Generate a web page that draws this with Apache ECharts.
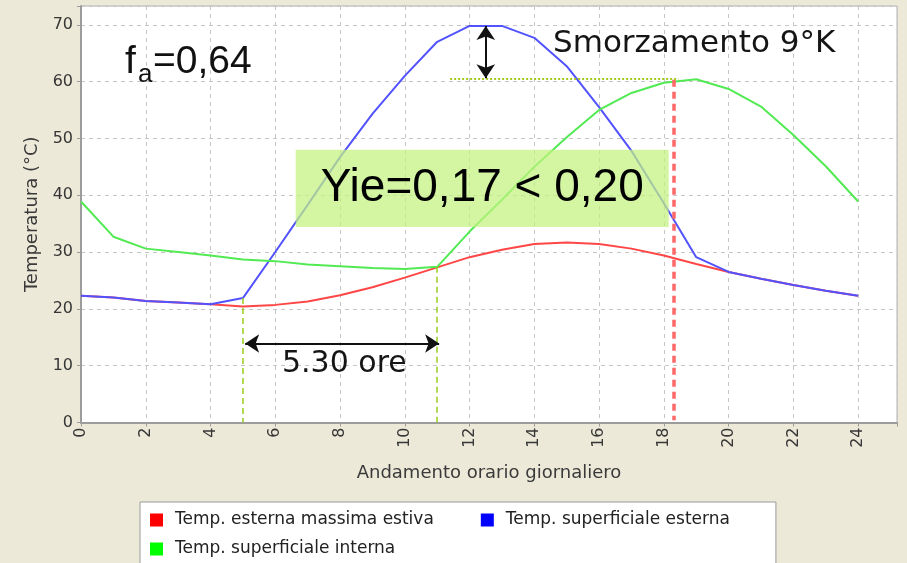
<!DOCTYPE html>
<html>
<head>
<meta charset="utf-8">
<script src="https://cdn.jsdelivr.net/npm/echarts@6/dist/echarts.min.js"></script>
<style>
  html, body { margin: 0; padding: 0; background: #ECE9D8; }
  #chart { width: 907px; height: 563px; }
</style>
</head>
<body>
<div id="chart"></div>
<script>
// Hourly profile over one summer day (hours 0..24)
const hours = [0, 1, 2, 3, 4, 5, 6, 7, 8, 9, 10, 11, 12, 13, 14, 15, 16, 17, 18, 19, 20, 21, 22, 23, 24];

// Temp. esterna massima estiva (°C)
const tempEsterna = [22.3, 22.0, 21.4, 21.1, 20.8, 20.4, 20.7, 21.3, 22.4, 23.8, 25.5, 27.3, 29.1,
                     30.4, 31.4, 31.7, 31.4, 30.6, 29.4, 27.9, 26.5, 25.3, 24.2, 23.2, 22.3];
// Temp. superficiale esterna (°C)
const tempSupEsterna = [22.3, 22.0, 21.4, 21.1, 20.8, 21.9, 30.0, 38.3, 46.7, 54.3, 61.0, 67.0, 69.8,
                        69.8, 67.7, 62.7, 55.5, 47.8, 38.6, 29.1, 26.5, 25.3, 24.2, 23.2, 22.3];
// Temp. superficiale interna (°C)
const tempSupInterna = [38.9, 32.7, 30.6, 30.0, 29.4, 28.7, 28.4, 27.8, 27.5, 27.2, 27.0, 27.4, 33.6,
                        39.2, 45.0, 50.2, 55.0, 58.0, 59.8, 60.4, 58.7, 55.6, 50.6, 45.1, 38.9];

const seriesNames = ['Temp. esterna massima estiva', 'Temp. superficiale esterna', 'Temp. superficiale interna'];

// Axis tick labels
const xTickLabels = [0, 2, 4, 6, 8, 10, 12, 14, 16, 18, 20, 22, 24];
const yTickLabels = [0, 10, 20, 30, 40, 50, 60, 70];

// Annotation geometry in data units [hour, °C]
const dampingArrow = [[12.5, 69.8], [12.5, 60.6]];     // peak attenuation (9 K)
const peakRefLine = [[11.4, 60.5], [18.45, 60.5]];      // internal peak level
const peakHourLine = [[18.3, 60.3], [18.3, 0.4]];       // internal peak hour
const lagStartLine = [[5.0, 21.9], [5.0, 0]];
const lagEndLine = [[11.0, 27.4], [11.0, 0]];
const lagArrow = [[5.07, 13.9], [11.06, 13.9]];         // time shift 5.30 h
const yieBox = [[6.63, 48.0], [18.15, 34.4]];
const yieText = 'Yie=0,17 < 0,20';

const toPoints = vals => hours.map((h, i) => [h, vals[i]]);
const seg = pair => [{ coord: pair[0] }, { coord: pair[1] }];

const lineColors = ['#ff4646', '#5252ff', '#52ea52'];
const legendColors = ['#ff0000', '#0000ff', '#00ff00'];
const legendTextPad = [[0, 35, 0, 7], [0, 10, 0, 7], [0, 10, 0, 7]];
const axisGrey = '#9c9c9c';
const labelText = { fontFamily: 'DejaVu Sans', fontSize: 16, color: '#363636' };

function annotationSeries(name, marker) {
  return Object.assign({ name: name, type: 'line', data: [], silent: true, clip: false, z: 3 }, marker);
}

const chart = echarts.init(document.getElementById('chart'), null, { renderer: 'canvas' });

chart.setOption({
  animation: false,
  backgroundColor: '#ECE9D8',
  textStyle: { fontFamily: 'DejaVu Sans' },
  grid: {
    left: 81, right: 10, top: 6, bottom: 140.5,
    show: true, backgroundColor: '#ffffff', borderColor: '#b0b0b0', borderWidth: 1
  },
  legend: {
    left: 140, top: 502, width: 640,
    orient: 'horizontal',
    icon: 'rect', itemWidth: 13, itemHeight: 13, itemGap: 12,
    padding: [9.5, 36, 10, 10],
    backgroundColor: '#ffffff', borderColor: '#9a9a9a', borderWidth: 1, borderRadius: 0,
    textStyle: { fontFamily: 'DejaVu Sans', fontSize: 17, color: '#222', lineHeight: 17 },
    selectedMode: false,
    data: seriesNames.map((n, i) => ({
      name: n,
      itemStyle: { color: legendColors[i] },
      textStyle: { padding: legendTextPad[i] }
    }))
  },
  xAxis: {
    type: 'value', min: 0, max: 25.2, interval: 2,
    name: 'Andamento orario giornaliero', nameLocation: 'middle', nameGap: 42,
    nameTextStyle: { fontFamily: 'DejaVu Sans', fontSize: 18, color: '#3a3a3a' },
    axisLine: { show: true, onZero: false, lineStyle: { color: axisGrey, width: 2 } },
    axisTick: { show: true, length: 4, lineStyle: { color: axisGrey } },
    axisLabel: Object.assign({ rotate: 90, margin: 5, formatter: v => xTickLabels.includes(v) ? String(v) : '' }, labelText),
    splitLine: { show: true, lineStyle: { color: '#c6c6c6', width: 1, type: [4, 4] } }
  },
  yAxis: {
    type: 'value', min: 0, max: 73.3, interval: 10,
    name: 'Temperatura (°C)', nameLocation: 'middle', nameGap: 38,
    nameTextStyle: { fontFamily: 'DejaVu Sans', fontSize: 18, color: '#3a3a3a' },
    axisLine: { show: true, lineStyle: { color: axisGrey, width: 2 } },
    axisTick: { show: true, length: 4, lineStyle: { color: axisGrey } },
    axisLabel: Object.assign({ margin: 8, formatter: v => yTickLabels.includes(v) ? String(v) : '' }, labelText),
    splitLine: { show: true, lineStyle: { color: '#c6c6c6', width: 1, type: [4, 4] } }
  },
  series: [
    ...[tempEsterna, tempSupEsterna, tempSupInterna].map((vals, i) => ({
      name: seriesNames[i], type: 'line', data: toPoints(vals),
      symbol: 'none', showSymbol: false, silent: true, z: 2,
      lineStyle: { color: lineColors[i], width: 2 },
      itemStyle: { color: legendColors[i] }
    })),
    annotationSeries('peakHour', {
      markLine: {
        silent: true, symbol: 'none', label: { show: false },
        lineStyle: { color: '#ff6868', width: 3.5, type: [7, 5] },
        data: [seg(peakHourLine)]
      }
    }),
    annotationSeries('peakRef', {
      markLine: {
        silent: true, symbol: 'none', label: { show: false },
        lineStyle: { color: '#a6c81e', width: 2, type: [2, 2] },
        data: [seg(peakRefLine)]
      }
    }),
    annotationSeries('lagMarks', {
      markLine: {
        silent: true, symbol: 'none', label: { show: false },
        lineStyle: { color: '#9acb1c', width: 1.5, type: [6, 4] },
        data: [seg(lagStartLine), seg(lagEndLine)]
      }
    }),
    annotationSeries('arrows', {
      markLine: {
        silent: true, symbol: ['arrow', 'arrow'], symbolSize: 14, label: { show: false },
        lineStyle: { color: '#111111', width: 2, type: 'solid' },
        data: [seg(dampingArrow), seg(lagArrow)]
      }
    }),
    annotationSeries('yie', {
      z: 4,
      markArea: {
        silent: true, z: 4,
        itemStyle: { color: 'rgba(196, 242, 128, 0.72)' },
        label: {
          show: true, position: 'inside', color: '#000',
          fontFamily: 'Liberation Sans', fontSize: 46
        },
        data: [[{ name: yieText, coord: yieBox[0] }, { coord: yieBox[1] }]]
      }
    })
  ],
  graphic: [
    { type: 'text', x: 125, y: 62, z: 10,
      style: { text: 'f', fontFamily: 'Liberation Sans', fontSize: 39, fill: '#111', align: 'left', verticalAlign: 'middle' } },
    { type: 'text', x: 138, y: 75, z: 10,
      style: { text: 'a', fontFamily: 'Liberation Sans', fontSize: 26, fill: '#111', align: 'left', verticalAlign: 'middle' } },
    { type: 'text', x: 153, y: 62, z: 10,
      style: { text: '=0,64', fontFamily: 'Liberation Sans', fontSize: 39, fill: '#111', align: 'left', verticalAlign: 'middle' } },
    { type: 'text', x: 553, y: 43.5, z: 10,
      style: { text: 'Smorzamento 9°K', fontFamily: 'DejaVu Sans', fontSize: 31, fill: '#151515', align: 'left', verticalAlign: 'middle' } },
    { type: 'text', x: 282, y: 364, z: 10,
      style: { text: '5.30 ore', fontFamily: 'DejaVu Sans', fontSize: 30, fill: '#151515', align: 'left', verticalAlign: 'middle' } }
  ]
});
</script>
</body>
</html>
